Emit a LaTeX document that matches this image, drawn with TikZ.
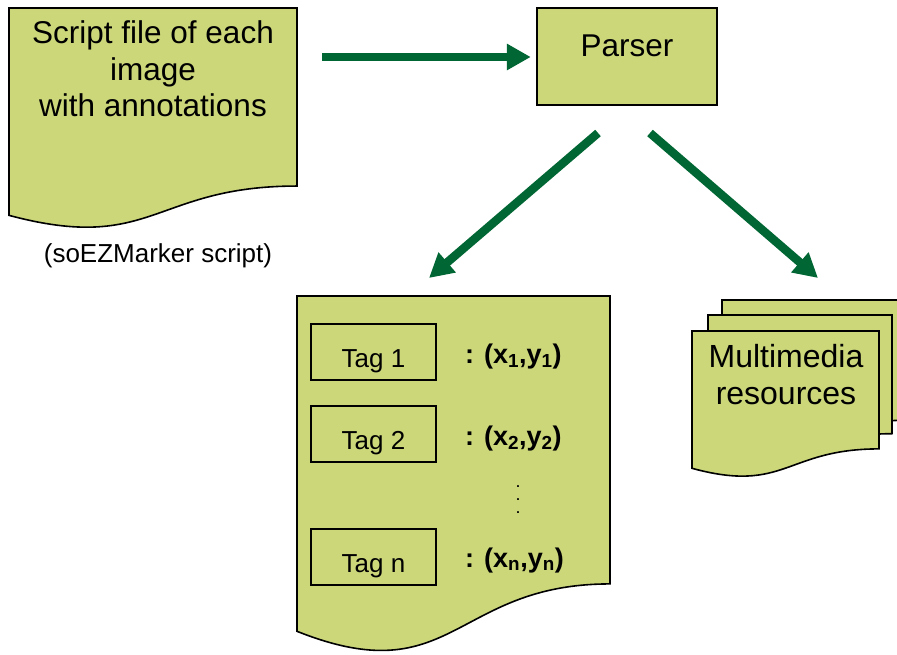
\documentclass[tikz,border=0pt]{standalone}
\usepackage{fontspec}
\setmainfont{Liberation Sans}
\usetikzlibrary{arrows.meta}

\definecolor{docfill}{RGB}{204,215,122}
\definecolor{flowgreen}{RGB}{0,102,51}

\newcommand\bigfont{\fontsize{31.5}{36.5}\selectfont}
\newcommand\midfont{\fontsize{26}{30}\selectfont}

% Flow-chart "document" sheet: left, top, right, full height (wavy bottom)
\newcommand\docsheet[4]{%
  \path[docshape] (#1,#2) -- (#3,#2) -- (#3,{#2+0.802*#4})
    .. controls ({(#1+#3)/2},{#2+0.802*#4}) and ({(#1+#3)/2},{#2+1.1075*#4})
    .. (#1,{#2+0.934*#4}) -- cycle;}

\tikzset{
  docshape/.style={fill=docfill, draw=black, line width=1.6pt, line join=miter},
  procbox/.style={fill=docfill, draw=black, line width=2.4pt, inner xsep=0pt, inner ysep=0pt},
  tagbox/.style={draw=black, line width=1.5pt, inner xsep=0pt, inner ysep=0pt,
    minimum width=125pt, text height=44pt, text depth=12pt, font=\midfont},
  coordtext/.style={anchor=base west, inner sep=0pt, font=\fontsize{27}{30}\selectfont\bfseries},
  flowarrow/.style={draw=flowgreen, line width=8.5pt,
    -{Triangle[length=24pt,width=25pt]}},
}

\begin{document}
\begin{tikzpicture}[x=1pt, y=-1pt]
\useasboundingbox (0,0) rectangle (897,655);

% script file (base anchor sits on the last line)
\docsheet{9}{8}{297}{222}
\node[anchor=base, align=center, inner sep=0pt, font=\bigfont] (script) at (153,117)
  {Script file of each\\image\\with annotations};
\node[anchor=base, inner sep=0pt, font=\midfont] (scriptnote) at (158,262)
  {(soEZMarker script)};

% parser
\node[procbox, anchor=north, minimum width=180pt, text height=48pt, text depth=49pt,
  font=\bigfont] (parser) at (627,7) {Parser};

% tag list sheet
\docsheet{297}{296}{610}{359}
\node[tagbox, anchor=north] (tag1) at (373.5,323) {Tag 1};
\node[tagbox, anchor=north] (tag2) at (373.5,405) {Tag 2};
\node[tagbox, anchor=north] (tagn) at (373.5,528) {Tag n};
\node[coordtext] (pos1) at (465,363) {: (x\textsubscript{1},y\textsubscript{1})};
\node[coordtext] (pos2) at (465,445) {: (x\textsubscript{2},y\textsubscript{2})};
\node[coordtext] (posn) at (465,567) {: (x\textsubscript{n},y\textsubscript{n})};
\node[anchor=base, align=center, inner sep=0pt, font=\fontsize{12.5}{13}\selectfont\bfseries]
  (vdots) at (518,513) {.\\.\\.};

% multimedia stack
\docsheet{722}{300}{905}{150}
\docsheet{708}{315}{892}{148}
\docsheet{692}{331}{879}{147}
\node[anchor=base, align=center, inner sep=0pt, font=\fontsize{32}{37}\selectfont]
  (media) at (786,404) {Multimedia\\resources};

% connectors
\coordinate (scriptout) at (322,57);
\coordinate (parserL) at (598,133);
\coordinate (parserR) at (650,133);
\coordinate (tagsin) at (429,278);
\coordinate (mediain) at (818,278);
\draw[flowarrow, shorten >=5pt] (scriptout) -- (parser.west |- scriptout);
\draw[flowarrow] (parserL) -- (tagsin);
\draw[flowarrow] (parserR) -- (mediain);
\end{tikzpicture}
\end{document}
